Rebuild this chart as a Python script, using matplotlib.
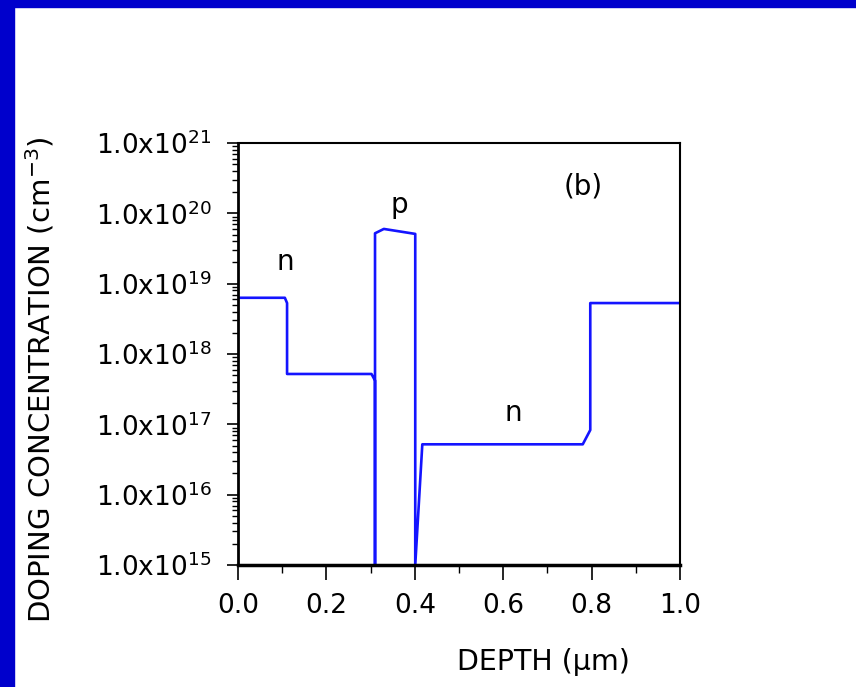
import matplotlib
matplotlib.use("Agg")
import matplotlib.pyplot as plt
from matplotlib.patches import Rectangle
from matplotlib.ticker import LogLocator, MultipleLocator, NullFormatter

plt.rcParams['font.family'] = ['DejaVu Sans']
plt.rcParams['mathtext.fontset'] = 'dejavusans'

# data: doping profile
depth = [0.0, 0.106, 0.111, 0.111, 0.302, 0.31, 0.31, 0.31, 0.33, 0.401,
         0.401, 0.417, 0.78, 0.797, 0.797, 1.0]
conc = [6.3e18, 6.3e18, 5.3e18, 5.2e17, 5.2e17, 4.2e17, 1e15, 5.2e19, 6.0e19, 5.1e19,
        1e15, 5.2e16, 5.2e16, 8.3e16, 5.3e18, 5.3e18]

ytick_vals = [1e15, 1e16, 1e17, 1e18, 1e19, 1e20, 1e21]
ytick_labels = [r'1.0x10$^{%d}$' % e for e in range(15, 22)]
xtick_vals = [0.0, 0.2, 0.4, 0.6, 0.8, 1.0]
xtick_labels = ['0.0', '0.2', '0.4', '0.6', '0.8', '1.0']

# region labels: (x, y, text)
labels = [(0.106, 2.0e19, 'n'), (0.366, 1.3e20, 'p'), (0.622, 1.45e17, 'n'), (0.78, 2.4e20, '(b)')]

fig = plt.figure(figsize=(8.56, 6.87), dpi=100)

# blue frame on top and left
fig.patches.append(Rectangle((0, 1 - 7 / 687), 1, 7 / 687, transform=fig.transFigure,
                             color='#0000CC', zorder=0))
fig.patches.append(Rectangle((0, 0), 14 / 856, 1, transform=fig.transFigure,
                             color='#0000CC', zorder=0))

ax = fig.add_axes([238 / 856, 122 / 687, 442 / 856, 422 / 687])
ax.plot(depth, conc, color='#1414FF', lw=1.9)
ax.set_yscale('log')
ax.set_xlim(0, 1)
ax.set_ylim(1e15, 1e21)

ax.set_yticks(ytick_vals)
ax.set_yticklabels(ytick_labels)
ax.yaxis.set_minor_locator(LogLocator(base=10, subs=range(2, 10), numticks=20))
ax.yaxis.set_minor_formatter(NullFormatter())
ax.set_xticks(xtick_vals)
ax.set_xticklabels(xtick_labels)
ax.xaxis.set_minor_locator(MultipleLocator(0.1))

ax.tick_params(axis='both', which='both', direction='out', labelsize=19, color='black')
ax.tick_params(axis='y', which='major', length=8, width=1.2, pad=11)
ax.tick_params(axis='y', which='minor', length=4.5, width=1.0)
ax.tick_params(axis='x', which='major', length=11, width=1.2, pad=9)
ax.tick_params(axis='x', which='minor', length=6, width=1.0)

ax.spines['left'].set_linewidth(2.0)
ax.spines['bottom'].set_linewidth(2.5)
ax.spines['top'].set_linewidth(1.5)
ax.spines['right'].set_linewidth(1.5)

for x, y, t in labels:
    ax.text(x, y, t, fontsize=20, ha='center', va='center')

fig.text(543 / 856, 1 - 662 / 687, 'DEPTH (μm)', fontsize=20.5, ha='center', va='center')
fig.text(40 / 856, 1 - 380 / 687, r'DOPING CONCENTRATION (cm$^{-3}$)', fontsize=21,
         rotation=90, ha='center', va='center')

fig.savefig('out.png', dpi=100)
